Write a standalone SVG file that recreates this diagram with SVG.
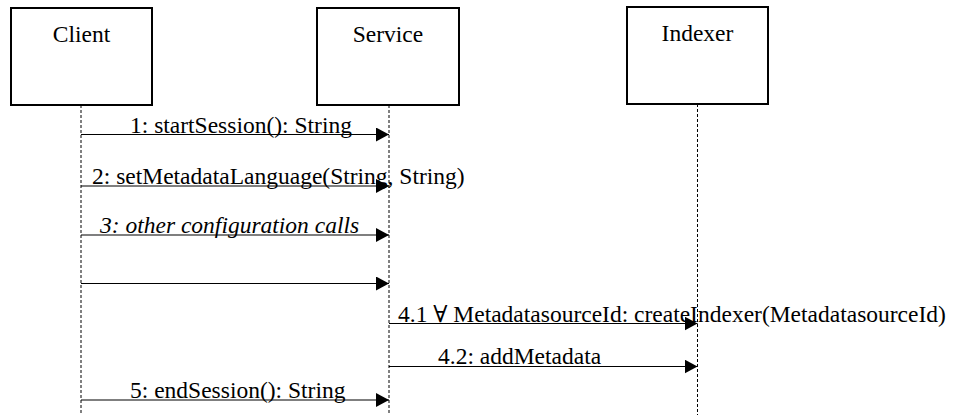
<svg xmlns="http://www.w3.org/2000/svg" width="962" height="415" viewBox="0 0 962 415">
<style>
.box{fill:#fff;stroke:#000;stroke-width:2}
.life{stroke:#000;stroke-width:1;stroke-dasharray:3 2;fill:none}
.msg{stroke:#000;stroke-width:1.2;fill:none}
text{font-family:'Liberation Serif','Times New Roman','DejaVu Serif',serif;font-size:23.5px;fill:#000}
.c{text-anchor:middle}
.i{font-style:italic}
</style>
<defs>
<marker id="ah" markerWidth="13" markerHeight="14" refX="13" refY="7" orient="auto" markerUnits="userSpaceOnUse">
<path d="M0,0 L13,7 L0,14 Z" fill="#000"/>
</marker>
</defs>
<rect width="962" height="415" fill="#fff"/>
<g id="client">
<rect class="box" x="11" y="8" width="141" height="97"/>
<text class="c" x="81.5" y="42" font-family="Liberation Serif, serif">Client</text>
<line class="life" x1="81" y1="105" x2="81" y2="415"/>
</g>
<g id="service">
<rect class="box" x="317" y="8" width="142" height="97"/>
<text class="c" x="388" y="42" font-family="Liberation Serif, serif">Service</text>
<line class="life" x1="389" y1="105" x2="389" y2="415"/>
</g>
<g id="indexer">
<rect class="box" x="627" y="7" width="141" height="97"/>
<text class="c" x="697.5" y="41" font-family="Liberation Serif, serif">Indexer</text>
<line class="life" x1="697.5" y1="104" x2="697.5" y2="415"/>
</g>
<g id="connectors">
<line class="msg" x1="81" y1="134.5" x2="389" y2="134.5" marker-end="url(#ah)"/>
<line class="msg" x1="81" y1="186" x2="389" y2="186" marker-end="url(#ah)"/>
<line class="msg" x1="81" y1="235" x2="389" y2="235" marker-end="url(#ah)"/>
<line class="msg" x1="81" y1="283.5" x2="389" y2="283.5" marker-end="url(#ah)"/>
<line class="msg" x1="389" y1="323.5" x2="697.5" y2="323.5" marker-end="url(#ah)"/>
<line class="msg" x1="389" y1="366.5" x2="697.5" y2="366.5" marker-end="url(#ah)"/>
<line class="msg" x1="81" y1="400" x2="389" y2="400" marker-end="url(#ah)"/>
<text x="130" y="132.5">1: startSession(): String</text>
<text x="92" y="184">2: setMetadataLanguage(String, String)</text>
<text class="i" x="100" y="232.5">3: other configuration calls</text>
<text x="398" y="321.5">4.1 ∀ MetadatasourceId: createIndexer(MetadatasourceId)</text>
<text x="438" y="363.5">4.2: addMetadata</text>
<text x="130" y="398">5: endSession(): String</text>
</g>
</svg>
